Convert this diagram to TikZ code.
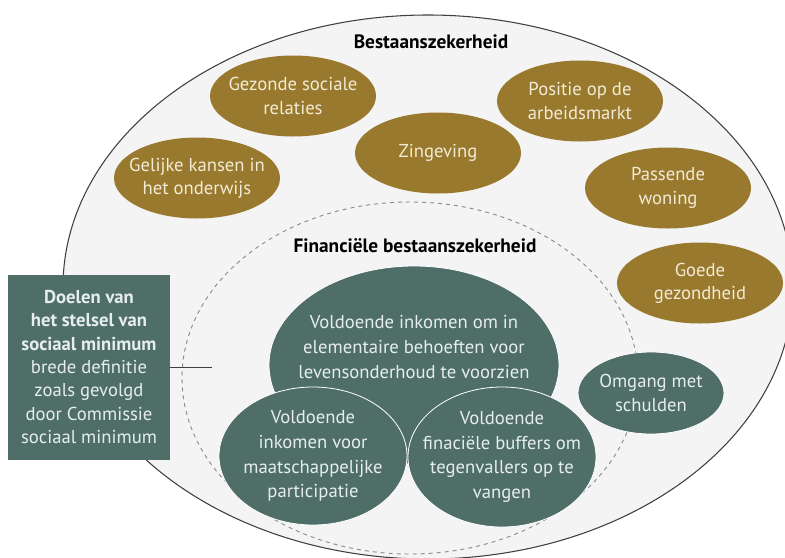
\documentclass[tikz,border=0pt]{standalone}
\usepackage{fontspec}
\setmainfont{PT Sans}
\usetikzlibrary{shapes.geometric}
\definecolor{goud}{HTML}{98792D}
\definecolor{groen}{HTML}{4F6E68}
\definecolor{room}{HTML}{F3EBD6}
\definecolor{licht}{HTML}{E6EEEB}
\definecolor{achter}{HTML}{F4F4F4}
\begin{document}
\begin{tikzpicture}[x=0.75pt,y=-0.75pt,
        maat/.style 2 args={minimum width=#1*1.5pt,minimum height=#2*1.5pt},
        goudblob/.style={ellipse,fill=goud,inner sep=0pt,maat={83}{40.5}},
        groenblob/.style={ellipse,fill=groen,draw=white,line width=0.6pt,inner sep=0pt},
        goudtekst/.style={text=room,align=center,font=\fontsize{14}{17.5}\selectfont},
        groentekst/.style={text=licht,align=center,font=\fontsize{14}{18.5}\selectfont},
        kop/.style={font=\fontsize{14.5}{17}\selectfont\bfseries}]
    \useasboundingbox (0,0) rectangle (785,557);
    \filldraw[fill=achter,draw=black!75,line width=0.8pt] (428,287) ellipse [x radius=365,y radius=272];
    \draw[black!45,dashed,line width=0.7pt] (410,378) ellipse [x radius=228,y radius=176];
    \node[kop] (bestaan) at (431,42) {Bestaanszekerheid};
    \node[kop] (financieel) at (415,246) {Financiële bestaanszekerheid};
    % gouden ellipsen
    \node[goudblob] (relaties) at (293,96) {};
    \node[goudtekst] (relatiestekst) at (relaties) {Gezonde sociale\\relaties};
    \node[goudblob] (arbeid) at (580,101) {};
    \node[goudtekst] (arbeidtekst) at (arbeid) {Positie op de\\arbeidsmarkt};
    \node[goudblob] (zin) at (438,153) {};
    \node[goudtekst] (zintekst) at (zin) {Zingeving};
    \node[goudblob] (onderwijs) at (197,178) {};
    \node[goudtekst] (onderwijstekst) at (onderwijs) {Gelijke kansen in\\het onderwijs};
    \node[goudblob] (woning) at (668,188) {};
    \node[goudtekst] (woningtekst) at (woning) {Passende\\woning};
    \node[goudblob] (gezond) at (700,283) {};
    \node[goudtekst] (gezondtekst) at (gezond) {Goede\\gezondheid};
    % groene ellipsen
    \node[groenblob,maat={73}{41}] (schulden) at (651,393) {};
    \node[groentekst] (schuldentekst) at (schulden) {Omgang met\\schulden};
    \node[groenblob,maat={145}{99}] (inkomen) at (414,365) {};
    \node[groentekst] (inkomentekst) at (414,347) {Voldoende inkomen om in\\elementaire behoeften voor\\levensonderhoud te voorzien};
    \node[groenblob,maat={94}{69}] (participatie) at (313,456) {};
    \node[groentekst] (participatietekst) at (participatie) {Voldoende\\inkomen voor\\maatschappelijke\\participatie};
    \node[groenblob,maat={94}{70}] (buffers) at (502,457) {};
    \node[groentekst] (bufferstekst) at (buffers) {Voldoende\\finaciële buffers om\\tegenvallers op te\\vangen};
    % kader links
    \node[fill=groen,text=licht,align=center,maat={81}{92.5},font=\fontsize{14}{17.6}\selectfont] (doelen) at (89,367)
        {\textbf{Doelen van}\\\textbf{het stelsel van}\\\textbf{sociaal minimum}\\brede definitie\\zoals gevolgd\\door Commissie\\sociaal minimum};
    \coordinate (lijnend) at (212,367);
    \draw[black!75,line width=0.6pt] (doelen.east) -- (lijnend);
\end{tikzpicture}
\end{document}
